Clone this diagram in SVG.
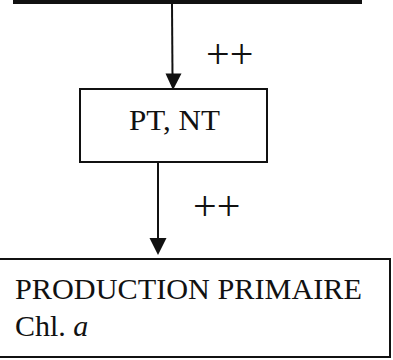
<svg xmlns="http://www.w3.org/2000/svg" width="393" height="360" viewBox="0 0 393 360">
<style>
.box{fill:#fff;stroke:#111;stroke-width:2}
.t{font-family:"Liberation Serif","Times New Roman",serif;fill:#111}
.lab{font-family:"Liberation Serif","Times New Roman",serif;fill:#111;font-size:42px}
.ln{stroke:#111;stroke-width:2;fill:none}
.ah{fill:#111}
</style>
<rect width="393" height="360" fill="#fff"/>
<g id="top-node"><rect x="13" y="-2" width="349" height="6" fill="#111"/></g>
<g id="connectors">
<line class="ln" x1="172" y1="4" x2="172.5" y2="76"/>
<polygon class="ah" points="165.5,73.5 181.5,73.5 173,90"/>
<text class="lab" x="206" y="68">++</text>
<line class="ln" x1="158" y1="162" x2="158" y2="240"/>
<polygon class="ah" points="149.5,238 166.5,238 158,255"/>
<text class="lab" x="193" y="220">++</text>
</g>
<g id="pt-nt"><rect class="box" x="80" y="89" width="187" height="73"/>
<text class="t" x="129" y="130" font-size="29" textLength="91" lengthAdjust="spacingAndGlyphs">PT, NT</text></g>
<g id="production"><rect class="box" x="-2" y="259" width="392" height="98"/>
<text class="t" x="15" y="299" font-size="30" textLength="347" lengthAdjust="spacingAndGlyphs">PRODUCTION PRIMAIRE</text>
<text class="t" x="15" y="336" font-size="30">Chl. <tspan font-style="italic">a</tspan></text></g>
</svg>
